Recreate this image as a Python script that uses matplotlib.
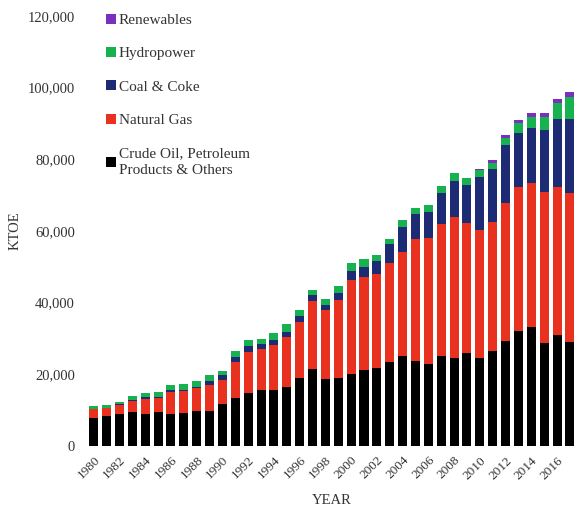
import numpy as np
import matplotlib.pyplot as plt
from matplotlib.patches import Patch

plt.rcParams['font.family'] = ['Liberation Serif', 'DejaVu Serif']

# Primary energy supply by source, KTOE
years = list(range(1980, 2018))
crude_oil = [7720, 8460, 8830, 9390, 8930, 9390, 8930, 9210, 9860, 9770,
             11620, 13300, 14880, 15530, 15720, 16370, 19070, 21390, 18650, 19070,
             20000, 21290, 21760, 23530, 25020, 23810, 22880, 25110, 24650, 26040,
             24650, 26600, 29300, 32170, 33110, 28840, 30970, 29020]
natural_gas = [2510, 2040, 2520, 3170, 4270, 3910, 6220, 6140, 6230, 7160,
               6780, 10050, 11440, 11440, 12370, 14040, 15530, 18970, 19250, 21660,
               26310, 25770, 26230, 27430, 29110, 33940, 35060, 36730, 39330, 36080,
               35610, 35800, 38580, 40180, 40170, 41930, 41380, 41480]
coal = [200, 200, 250, 370, 340, 380, 380, 370, 370, 1210,
        1320, 1570, 1580, 1490, 1480, 1490, 1580, 1670, 1580, 1860,
        2600, 2790, 3530, 5400, 7060, 6880, 7250, 8840, 9860, 10700,
        14700, 14790, 16010, 15060, 15350, 17400, 18800, 20650]
hydro = [800, 830, 590, 1110, 1340, 1470, 1400, 1580, 1680, 1760,
         1300, 1580, 1580, 1480, 2050, 2050, 1760, 1400, 1580, 2050,
         2050, 2230, 1770, 1480, 1860, 1860, 2140, 1950, 2420, 2040,
         2140, 1860, 2130, 2620, 3260, 3720, 4470, 6310]
renewables = [0] * 30 + [150, 650, 840, 920, 940, 1110, 1280, 1220]

series = [
    ("Crude Oil, Petroleum\nProducts & Others", crude_oil, "#000000"),
    ("Natural Gas", natural_gas, "#e8321f"),
    ("Coal & Coke", coal, "#1d2a74"),
    ("Hydropower", hydro, "#17b14f"),
    ("Renewables", renewables, "#7b2fbe"),
]

fig = plt.figure(figsize=(5.77, 5.19), dpi=100)
ax = fig.add_axes([86 / 577, 73 / 519, 491 / 577, 430 / 519])

x = np.arange(len(years))
bottom = np.zeros(len(years))
handles = []
for label, vals, color in series:
    vals = np.array(vals, dtype=float)
    ax.bar(x, vals, bottom=bottom, width=0.7, color=color, linewidth=0)
    bottom += vals
    handles.append(Patch(facecolor=color, label=label))

ax.set_xlim(-0.6, len(years) - 0.45)
ax.set_ylim(0, 120000)
ax.set_yticks(range(0, 120001, 20000))
ax.set_yticklabels([f"{v:,}" for v in range(0, 120001, 20000)], fontsize=10.5, color="#333333")
ax.set_xticks(x[::2])
ax.set_xticklabels([str(y) for y in years[::2]], rotation=45, ha="right",
                   rotation_mode="anchor", fontsize=9.5, color="#333333")
ax.tick_params(axis="both", length=0, pad=8)
ax.tick_params(axis="x", pad=6)
for s in ax.spines.values():
    s.set_visible(False)

ax.set_ylabel("KTOE", fontsize=10.5, color="#333333", labelpad=4)
ax.set_xlabel("YEAR", fontsize=10.5, color="#333333", labelpad=9)

leg = fig.legend(handles=handles[::-1], loc="upper left", bbox_to_anchor=(98 / 577, 1 - 6 / 519),
                 frameon=False, fontsize=11, handlelength=0.65, handleheight=0.65,
                 handletextpad=0.2, labelspacing=1.3, borderpad=0, labelcolor="#333333")
for t in leg.get_texts():
    t.set_linespacing(1.45)

fig.savefig("out.png", dpi=100)
